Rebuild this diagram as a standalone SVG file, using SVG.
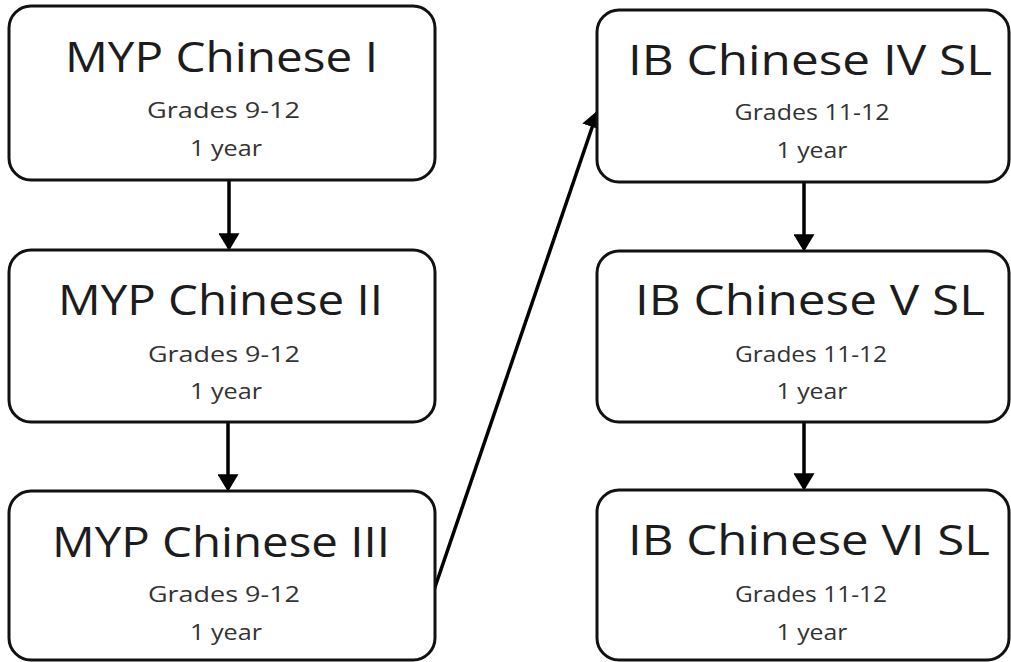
<svg xmlns="http://www.w3.org/2000/svg" width="1011" height="662" viewBox="0 0 1011 662">
<defs>
<style>
.box{fill:#fff;stroke:#111;stroke-width:3}
.t{font-family:"Open Sans","Liberation Sans",sans-serif;font-size:42px;fill:#1c1c1c;text-anchor:middle}
.s{font-family:"Open Sans","Liberation Sans",sans-serif;font-size:22px;fill:#333;text-anchor:middle}
.c{stroke:#000;stroke-width:3.5;fill:none;marker-end:url(#ah)}
</style>
<marker id="ah" markerWidth="6" markerHeight="6" refX="4.2" refY="3" orient="auto" markerUnits="strokeWidth">
<path d="M0,0 L5,3 L0,6 Z" fill="#000"/>
</marker>
</defs>
<rect width="1011" height="662" fill="#fff"/>
<g id="connectors">
<line class="c" x1="229" y1="181" x2="229" y2="248"/>
<line class="c" x1="228" y1="423" x2="228" y2="489"/>
<line class="c" x1="434" y1="590" x2="597" y2="113"/>
<line class="c" x1="804" y1="183" x2="804" y2="249"/>
<line class="c" x1="804" y1="423" x2="804" y2="488"/>
</g>
<g id="n1"><rect class="box" x="9" y="6" width="426" height="174" rx="22"/>
<text class="t" x="221.5" y="72" textLength="313" lengthAdjust="spacingAndGlyphs">MYP Chinese I</text>
<text class="s" x="223.5" y="118" textLength="153" lengthAdjust="spacingAndGlyphs">Grades 9-12</text>
<text class="s" x="226" y="156" textLength="72" lengthAdjust="spacingAndGlyphs">1 year</text></g>
<g id="n2"><rect class="box" x="9" y="250" width="426" height="172" rx="22"/>
<text class="t" x="220.5" y="315" textLength="325" lengthAdjust="spacingAndGlyphs">MYP Chinese II</text>
<text class="s" x="224" y="362" textLength="152" lengthAdjust="spacingAndGlyphs">Grades 9-12</text>
<text class="s" x="226" y="399" textLength="72" lengthAdjust="spacingAndGlyphs">1 year</text></g>
<g id="n3"><rect class="box" x="9" y="491" width="426" height="169" rx="22"/>
<text class="t" x="221" y="557" textLength="338" lengthAdjust="spacingAndGlyphs">MYP Chinese III</text>
<text class="s" x="224" y="602" textLength="152" lengthAdjust="spacingAndGlyphs">Grades 9-12</text>
<text class="s" x="226" y="640" textLength="72" lengthAdjust="spacingAndGlyphs">1 year</text></g>
<g id="n4"><rect class="box" x="597" y="10" width="412" height="172" rx="22"/>
<text class="t" x="810" y="75" textLength="364" lengthAdjust="spacingAndGlyphs">IB Chinese IV SL</text>
<text class="s" x="812" y="120" textLength="155" lengthAdjust="spacingAndGlyphs">Grades 11-12</text>
<text class="s" x="812" y="158" textLength="71" lengthAdjust="spacingAndGlyphs">1 year</text></g>
<g id="n5"><rect class="box" x="597" y="251" width="412" height="171" rx="22"/>
<text class="t" x="810" y="315" textLength="350" lengthAdjust="spacingAndGlyphs">IB Chinese V SL</text>
<text class="s" x="811" y="362" textLength="152" lengthAdjust="spacingAndGlyphs">Grades 11-12</text>
<text class="s" x="812" y="399" textLength="71" lengthAdjust="spacingAndGlyphs">1 year</text></g>
<g id="n6"><rect class="box" x="597" y="490" width="412" height="170" rx="22"/>
<text class="t" x="809" y="555" textLength="362" lengthAdjust="spacingAndGlyphs">IB Chinese VI SL</text>
<text class="s" x="811" y="602" textLength="152" lengthAdjust="spacingAndGlyphs">Grades 11-12</text>
<text class="s" x="812" y="640" textLength="71" lengthAdjust="spacingAndGlyphs">1 year</text></g>
</svg>
